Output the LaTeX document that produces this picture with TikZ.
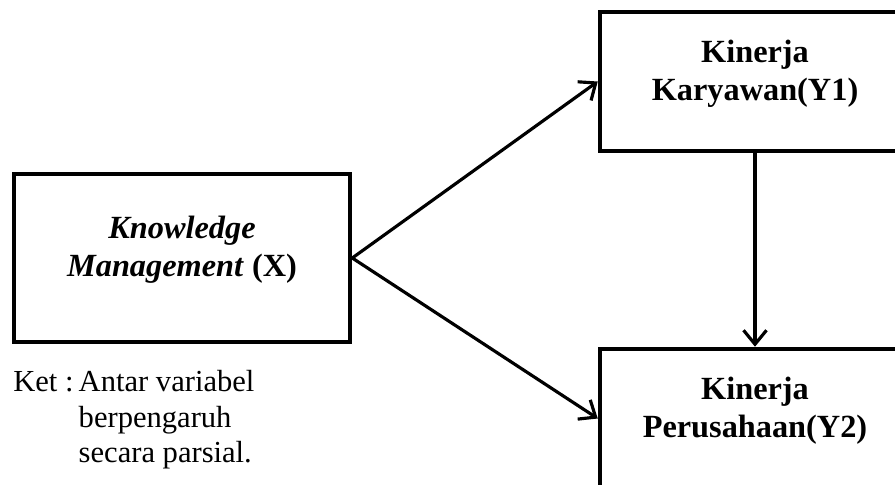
\documentclass[tikz,border=0pt]{standalone}
\usepackage{fontspec}
\setmainfont{Liberation Serif}
\usetikzlibrary{arrows.meta,positioning}
\tikzset{
    kotak/.style={
        rectangle,
        draw,
        line width=2.6pt,
        align=center,
        text depth=13pt,
        font=\fontsize{18.4}{21.5}\selectfont\bfseries
    },
    panah/.style={-{Straight Barb[length=2.8mm,width=4.6mm,line width=1.8pt]}, line width=1.8pt}
}
\begin{document}
\begin{tikzpicture}[x=0.02cm, y=-0.02cm]
        \useasboundingbox (0,0) rectangle (895,484);
        \clip (0,0) rectangle (895,484);

        \node[kotak, minimum width=6.72cm, minimum height=3.36cm] (km) at (182,258)
            {\textit{Knowledge}\\\textit{Management} (X)};

        \node[kotak, minimum width=6.2cm, minimum height=2.78cm] (kk) at (755,81.5)
            {Kinerja\\Karyawan(Y1)};
        \node[kotak, minimum width=6.2cm, minimum height=2.78cm] (kp) at (755,418.5)
            {Kinerja\\Perusahaan(Y2)};

        \node[anchor=north west, inner sep=0pt, font=\fontsize{17.4}{20}\selectfont] (ket) at (13,367)
            {\begin{tabular}{@{}l@{\,}l@{}}Ket :& Antar variabel\\ & berpengaruh\\ & secara parsial.\end{tabular}};

        \draw[panah] (km.east) -- (kk.west);
        \draw[panah] (km.east) -- (kp.west);
        \draw[panah] (kk.south) -- (kp.north);
    \end{tikzpicture}
\end{document}
